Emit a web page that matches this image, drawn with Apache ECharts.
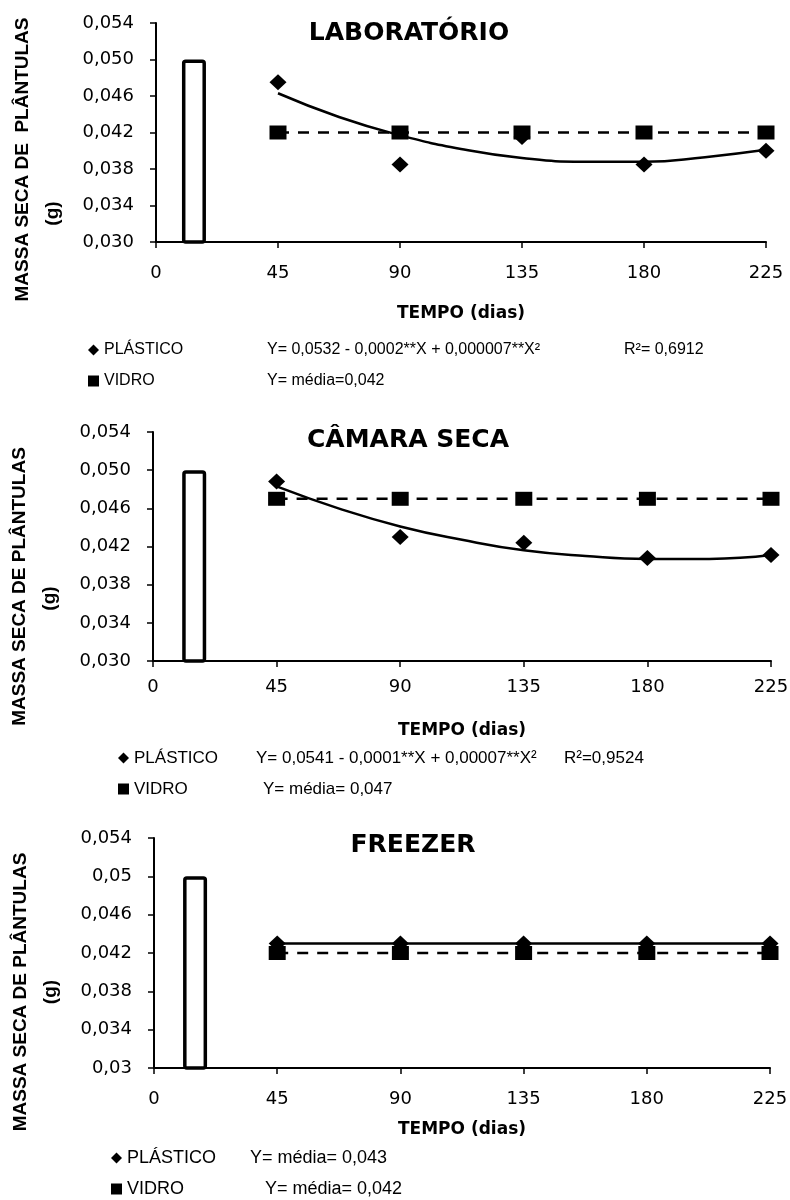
<!DOCTYPE html>
<html><head><meta charset="utf-8">
<script src="https://cdn.jsdelivr.net/npm/echarts@6/dist/echarts.min.js"></script>
<style>html,body{margin:0;padding:0;background:#fff}#c{width:790px;height:1200px}</style>
</head><body><div id="c"></div>
<script>
// ---------- data ----------
const dias = [45, 90, 135, 180, 225];
const xTickLabels = ['0', '45', '90', '135', '180', '225'];
const yTickLabelsAB = ['0,030', '0,034', '0,038', '0,042', '0,046', '0,050', '0,054'];
const yTickLabelsC = ['0,03', '0,034', '0,038', '0,042', '0,046', '0,05', '0,054'];
const titles = ['LABORATÓRIO', 'CÂMARA SECA', 'FREEZER'];
const yNames = ['MASSA SECA DE  PLÂNTULAS', 'MASSA SECA DE PLÂNTULAS', 'MASSA SECA DE PLÂNTULAS'];

// initial sample (bar)
const barX = [14, 15, 15];
const barY = [0.050, 0.050, 0.050];

// LABORATÓRIO
const labPlastico = [0.0475, 0.0385, 0.0415, 0.0385, 0.0400];
const labVidro = [0.042, 0.042, 0.042, 0.042, 0.042];
const curveX = [45, 67.5, 90, 112.5, 135, 157.5, 180, 202.5, 225];
const labCurve = [0.0463, 0.0437, 0.0417, 0.0402, 0.0392, 0.0388, 0.0388, 0.0393, 0.0401];
// CÂMARA SECA
const camPlastico = [0.0488, 0.0430, 0.0424, 0.0408, 0.0411];
const camVidro = [0.047, 0.047, 0.047, 0.047, 0.047];
const camCurve = [0.0483, 0.0460, 0.0441, 0.0427, 0.0416, 0.0410, 0.0407, 0.0407, 0.0411];
// FREEZER
const frzPlastico = [0.043, 0.043, 0.043, 0.043, 0.043];
const frzVidro = [0.042, 0.042, 0.042, 0.042, 0.042];

// legend texts
const legNames = ['PLÁSTICO', 'VIDRO'];
const legEqs = [
  ['Y= 0,0532 - 0,0002**X + 0,000007**X²', 'Y= média=0,042'],
  ['Y= 0,0541 - 0,0001**X + 0,00007**X²', 'Y= média= 0,047'],
  ['Y= média= 0,043', 'Y= média= 0,042']
];
const legR2 = [['R²= 0,6912', ''], ['R²=0,9524', ''], ['', '']];

// ---------- layout ----------
const grids = [
  {left: 156, right: 24, top: 23, height: 219},
  {left: 153, right: 19, top: 432, height: 229},
  {left: 154, right: 20, top: 838, height: 230}
];
const nameGapsX = [63, 61, 53];
const xLabelMargins = [22, 17, 22];
const titlePos = [[409, 33], [408, 440], [413, 845]];
const yNamePad = [[54, 162], [80, 104], [78, 78]];
const legLayout = [
  {left: 88, top: 340, nW: [163, 163], eW: 357, size: 16},
  {left: 118, top: 748, nW: [122, 129], eW: 308, size: 17},
  {left: 111, top: 1148, nW: [123, 138], eW: 200, size: 18}
];

const FONT_TICK = 'DejaVu Sans';
const FONT_TXT = 'Liberation Sans';

function pairs(xs, ys) { return xs.map((x, i) => [x, ys[i]]); }

const plasticoSets = [labPlastico, camPlastico, frzPlastico];
const vidroSets = [labVidro, camVidro, frzVidro];
const curveSets = [labCurve, camCurve, null];

const option = {
  backgroundColor: '#fff',
  animation: false,
  grid: grids.map(g => Object.assign({containLabel: false, outerBoundsMode: 'none'}, g)),
  xAxis: grids.map((g, i) => ({
    type: 'value', gridIndex: i, min: 0, max: 225, interval: 45,
    name: 'TEMPO (dias)', nameLocation: 'middle', nameGap: nameGapsX[i],
    nameTextStyle: {fontFamily: FONT_TICK, fontWeight: 'bold', fontSize: 17, color: '#000'},
    axisLine: {show: true, onZero: false, lineStyle: {color: '#000', width: 2}},
    axisTick: {show: true, length: 6, lineStyle: {color: '#000', width: 1.5}},
    axisLabel: {fontFamily: FONT_TICK, fontSize: 18, color: '#000', margin: xLabelMargins[i],
      formatter: v => xTickLabels[Math.round(v / 45)]},
    splitLine: {show: false}
  })),
  yAxis: grids.map((g, i) => ({
    type: 'value', gridIndex: i, min: 0.030, max: 0.054, interval: 0.004,
    name: '{a|' + yNames[i] + '}\n{b|(g)}', nameLocation: 'middle', nameGap: 88,
    nameTextStyle: {
      fontFamily: FONT_TXT, fontWeight: 'bold', fontSize: 19, color: '#000', lineHeight: 30,
      rich: {
        a: {fontFamily: FONT_TXT, fontWeight: 'bold', fontSize: 19, lineHeight: 30, padding: [0, yNamePad[i][0], 0, 0]},
        b: {fontFamily: FONT_TXT, fontWeight: 'bold', fontSize: 19, lineHeight: 30, padding: [0, yNamePad[i][1], 0, 0]}
      }
    },
    axisLine: {show: true, onZero: false, lineStyle: {color: '#000', width: 2}},
    axisTick: {show: true, length: 6, lineStyle: {color: '#000', width: 1.5}},
    axisLabel: {fontFamily: FONT_TICK, fontSize: 18, color: '#000', margin: 22,
      formatter: v => (i === 2 ? yTickLabelsC : yTickLabelsAB)[Math.round((v - 0.030) / 0.004)]},
    splitLine: {show: false}
  })),
  legend: legLayout.map((L, i) => ({
    orient: 'vertical', left: L.left, top: L.top, itemGap: 11, itemWidth: 11, itemHeight: 11,
    padding: 0, selectedMode: false,
    data: [{name: legNames[0], icon: 'diamond'}, {name: legNames[1], icon: 'rect'}],
    itemStyle: {opacity: 1},
    formatter: name => {
      const k = legNames.indexOf(name);
      let s = '{n' + k + '|' + name + '}{e|' + legEqs[i][k] + '}';
      if (legR2[i][k]) s += '{r|' + legR2[i][k] + '}';
      return s;
    },
    textStyle: {
      fontFamily: FONT_TXT, fontSize: L.size, color: '#000', lineHeight: 20,
      rich: {
        n0: {width: L.nW[0], fontFamily: FONT_TXT, fontSize: L.size, lineHeight: 20},
        n1: {width: L.nW[1], fontFamily: FONT_TXT, fontSize: L.size, lineHeight: 20},
        e: {width: L.eW, fontFamily: FONT_TXT, fontSize: L.size, lineHeight: 20},
        r: {fontFamily: FONT_TXT, fontSize: L.size, lineHeight: 20}
      }
    }
  })),
  graphic: titles.map((t, i) => ({
    type: 'text', x: titlePos[i][0], y: titlePos[i][1],
    style: {text: t, align: 'center', verticalAlign: 'middle', fill: '#000',
      font: 'bold 25px "DejaVu Sans"'}
  })),
  series: []
};

for (let i = 0; i < 3; i++) {
  option.series.push({
    type: 'bar', name: 'inicial', xAxisIndex: i, yAxisIndex: i, barWidth: 24,
    data: [[barX[i], barY[i]]],
    itemStyle: {color: '#fff', borderColor: '#000', borderWidth: 3.5, borderRadius: 2}, z: 1
  });
  if (curveSets[i]) {
    option.series.push({
      type: 'line', name: 'ajuste', xAxisIndex: i, yAxisIndex: i, smooth: 0.5,
      showSymbol: false, symbol: 'none', data: pairs(curveX, curveSets[i]),
      lineStyle: {color: '#000', width: 2.5}, z: 2
    });
    option.series.push({
      type: 'scatter', name: 'PLÁSTICO', xAxisIndex: i, yAxisIndex: i,
      symbol: 'diamond', symbolSize: [17, 16], data: pairs(dias, plasticoSets[i]),
      itemStyle: {color: '#000', opacity: 1}, z: 3
    });
  } else {
    option.series.push({
      type: 'line', name: 'PLÁSTICO', xAxisIndex: i, yAxisIndex: i,
      symbol: 'diamond', symbolSize: [17, 16], data: pairs(dias, plasticoSets[i]),
      lineStyle: {color: '#000', width: 2.5}, itemStyle: {color: '#000', opacity: 1}, z: 3
    });
  }
  option.series.push({
    type: 'line', name: 'VIDRO', xAxisIndex: i, yAxisIndex: i,
    symbol: 'rect', symbolSize: [17, 14], data: pairs(dias, vidroSets[i]),
    lineStyle: {color: '#000', width: 2.5, type: [11, 9]}, itemStyle: {color: '#000', opacity: 1}, z: 4
  });
}

const chart = echarts.init(document.getElementById('c'), null, {renderer: 'canvas'});
chart.setOption(option);
</script>
</body></html>
